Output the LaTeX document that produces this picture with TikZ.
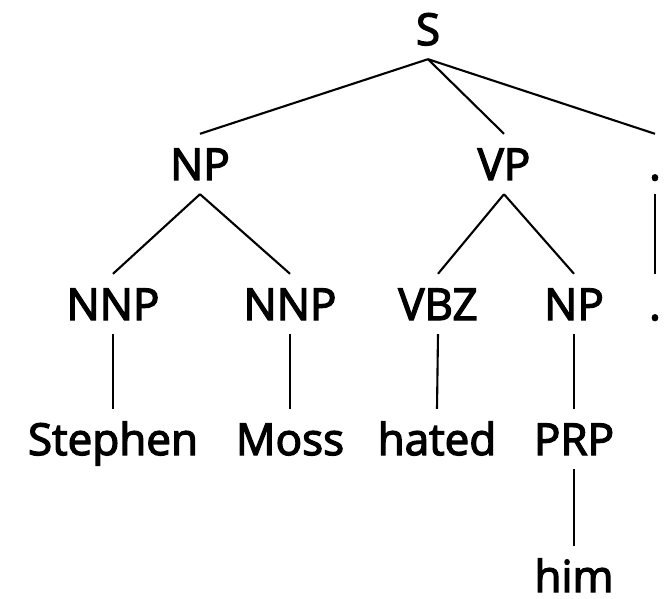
\documentclass[tikz,border=0pt]{standalone}
\usepackage{fontspec}
\newfontfamily\labfont{Open Sans}[RawFeature={embolden=3}]
\begin{document}
\begin{tikzpicture}[x=1pt,y=-1pt,
  lab/.style={anchor=base, font=\labfont\fontsize{44}{50}\selectfont,
    text height=32pt, text depth=0pt, inner xsep=0pt, inner ysep=14pt},
  edge/.style={line width=2.1pt, black}]
\useasboundingbox (0,0) rectangle (667,599);
% categories and words, by row
\node[lab] (s)     at (428,45)  {S};
\node[lab] (np)    at (200,180) {NP};
\node[lab] (vp)    at (504,180) {VP};
\node[lab] (pa)    at (655,180) {.};
\node[lab] (nnpa)  at (113,320) {NNP};
\node[lab] (nnpb)  at (290,320) {NNP};
\node[lab] (vbz)   at (438,320) {VBZ};
\node[lab] (npb)   at (574,320) {NP};
\node[lab] (pb)    at (655,320) {.};
\node[lab] (steph) at (113,455) {Stephen};
\node[lab] (moss)  at (290,455) {Moss};
\node[lab] (hated) at (437,455) {hated};
\node[lab] (prp)   at (574,455) {PRP};
\node[lab] (him)   at (574,592) {him};
% branches
\draw[edge] (s.south) -- (np.north);
\draw[edge] (s.south) -- (vp.north);
\draw[edge] (s.south) -- (pa.north);
\draw[edge] (np.south) -- (nnpa.north);
\draw[edge] (np.south) -- (nnpb.north);
\draw[edge] (vp.south) -- (vbz.north);
\draw[edge] (vp.south) -- (npb.north);
\draw[edge] (pa.south) -- (pb.north);
\draw[edge] (nnpa.south) -- (steph.north);
\draw[edge] (nnpb.south) -- (moss.north);
\draw[edge] (vbz.south) -- (hated.north);
\draw[edge] (npb.south) -- (prp.north);
\draw[edge] (prp.south) -- (him.north);
\end{tikzpicture}
\end{document}
